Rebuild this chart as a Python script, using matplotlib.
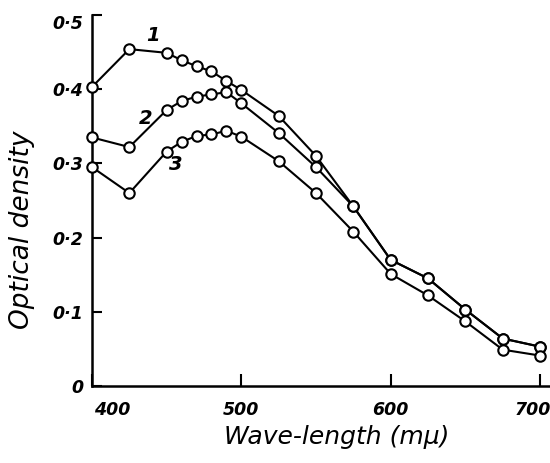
import numpy as np
import matplotlib
matplotlib.use("Agg")
import matplotlib.pyplot as plt
from matplotlib.transforms import ScaledTranslation

# DATA
wavelength = [400, 425, 450, 460, 470, 480, 490, 500, 525, 550, 575, 600, 625, 650, 675, 700]
curve1 = [0.403, 0.454, 0.449, 0.439, 0.431, 0.424, 0.411, 0.399, 0.364, 0.310, 0.242,
          0.170, 0.145, 0.103, 0.064, 0.053]
curve2 = [0.335, 0.322, 0.372, 0.384, 0.390, 0.393, 0.396, 0.381, 0.341, 0.295, 0.242,
          0.170, 0.145, 0.103, 0.064, 0.053]
curve3 = [0.295, 0.260, 0.316, 0.329, 0.337, 0.339, 0.344, 0.336, 0.303, 0.260, 0.208,
          0.151, 0.122, 0.087, 0.049, 0.041]
curve_names = ['1', '2', '3']
name_pos = [(441, 0.472), (436, 0.361), (456, 0.298)]

xticks = [400, 500, 600, 700]
xticklabels = ['400', '500', '600', '700']
yticks = [0, 0.1, 0.2, 0.3, 0.4, 0.5]
yticklabels = ['0', '0·1', '0·2', '0·3', '0·4', '0·5']

plt.rcParams['font.family'] = ['DejaVu Sans']
plt.rcParams['font.style'] = 'italic'

fig = plt.figure(figsize=(5.5, 4.63), dpi=100)
ax = fig.add_axes([92/550, 77/463, 457/550, 371/463])

for ys in [curve1, curve2, curve3]:
    ax.plot(wavelength, ys, color='black', lw=1.5, marker='o', ms=7.5,
            mfc='white', mec='black', mew=1.5, clip_on=False, zorder=3)

for name, (px, py) in zip(curve_names, name_pos):
    ax.text(px, py, name, fontsize=14, style='italic', weight='bold',
            ha='center', va='center')

ax.set_xlim(400, 706)
ax.set_ylim(0, 0.5)
ax.spines['top'].set_visible(False)
ax.spines['right'].set_visible(False)
ax.spines['left'].set_linewidth(1.8)
ax.spines['bottom'].set_linewidth(1.8)

ax.set_xticks(xticks, xticklabels, fontsize=12.5, style='italic', weight='bold')
ax.set_yticks(yticks, yticklabels, fontsize=12.5, style='italic', weight='bold')
ax.tick_params(axis='x', direction='in', length=9, width=1.5, pad=11)
ax.tick_params(axis='y', direction='in', length=7, width=1.5, pad=6)

# the 400 label sits right of its tick, the 700 label is pulled in a little
labs = ax.get_xticklabels()
labs[0].set_transform(labs[0].get_transform() + ScaledTranslation(20/100, 0, fig.dpi_scale_trans))
labs[-1].set_transform(labs[-1].get_transform() + ScaledTranslation(-7/100, 0, fig.dpi_scale_trans))
ylabs = ax.get_yticklabels()
ylabs[-1].set_transform(ylabs[-1].get_transform() + ScaledTranslation(0, -7/100, fig.dpi_scale_trans))

fig.text(337/550, 1 - 437/463, 'Wave-length (mμ)', fontsize=18, style='italic',
         ha='center', va='center')
fig.text(22/550, 1 - 230/463, 'Optical density', fontsize=19, style='italic',
         ha='center', va='center', rotation=90)

fig.savefig('out.png', dpi=100)
